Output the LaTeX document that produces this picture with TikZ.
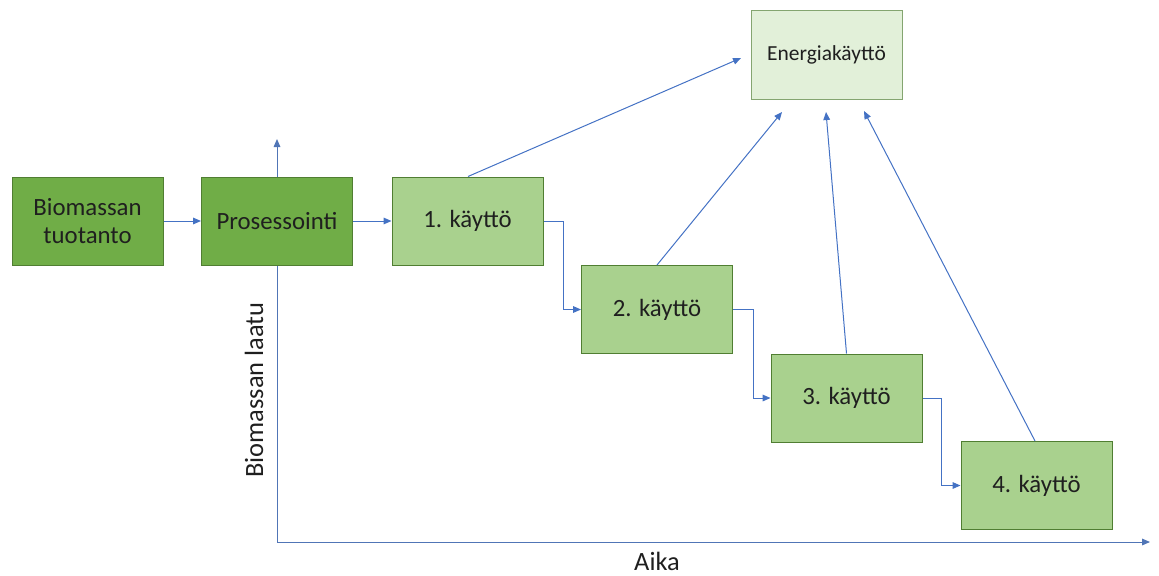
\documentclass[tikz,border=0pt]{standalone}
\usepackage{fontspec}
\setmainfont{Carlito}
\usetikzlibrary{arrows.meta,calc}
\definecolor{dkgreen}{HTML}{70AD47}
\definecolor{ltgreen}{HTML}{A9D18E}
\definecolor{pale}{HTML}{E2F0D9}
\definecolor{edgegreen}{HTML}{507E32}
\definecolor{arr}{HTML}{4472C4}
\begin{document}
\begin{tikzpicture}[x=0.75pt,y=-0.75pt,
  box/.style={draw=edgegreen, line width=0.75pt, minimum width=113.25pt, minimum height=66pt,
    inner sep=0pt, align=center, font=\fontsize{18.6}{21}\selectfont, text=black!88},
  darkbox/.style={box, fill=dkgreen},
  lightbox/.style={box, fill=ltgreen},
  palebox/.style={box, fill=pale, draw=edgegreen!70, minimum height=66.75pt, font=\fontsize{16.1}{19}\selectfont},
  conn/.style={draw=arr, line width=0.75pt, -{Triangle[length=6pt,width=5pt]}},
  axis/.style={line width=0.75pt, -{Triangle[length=6pt,width=5pt]}, color=arr!80!gray},
  axlabel/.style={font=\fontsize{19.8}{24}\selectfont, text=black!88, inner sep=0pt}]
\useasboundingbox (0,0) rectangle (1159,575);

% axes
\coordinate (O) at (277,542);
\coordinate (ytop) at (277,139);
\coordinate (xend) at (1150,542);
\draw[axis] (O) -- (ytop);
\draw[axis] (O) -- (xend);

% boxes
\node[darkbox] (bio) at (87.5,221) {Biomassan\\tuotanto};
\node[darkbox] (pro) at (277,221) {Prosessointi};
\node[lightbox] (k1) at (467.5,221) {1. käyttö};
\node[lightbox] (k2) at (657,309.5) {2. käyttö};
\node[lightbox] (k3) at (846.5,398) {3. käyttö};
\node[lightbox] (k4) at (1036.5,485.5) {4. käyttö};
\node[palebox] (en) at (826.5,54.5) {Energiakäyttö};

% flow connectors
\draw[conn] (bio) -- (pro);
\draw[conn] (pro) -- (k1);
\draw[conn] (k1.east) -- ++(20,0) |- (k2.west);
\draw[conn] (k2.east) -- ++(20,0) |- (k3.west);
\draw[conn] (k3.east) -- ++(19,0) |- (k4.west);

% to energy use
\coordinate (t1) at (741,58);
\coordinate (t2) at (782,112);
\coordinate (t3) at (826,112);
\coordinate (t4) at (864,111);
\draw[conn] ($(k1.north)+(0.5,0)$) -- (t1);
\draw[conn] (k2.north) -- (t2);
\draw[conn] (k3.north) -- (t3);
\draw[conn] ($(k4.north)+(-1.5,0)$) -- (t4);

% axis labels
\node[axlabel, rotate=90, anchor=base] (ylab) at (263,390) {Biomassan laatu};
\node[axlabel, anchor=base] (xlab) at (657,570) {Aika};
\end{tikzpicture}
\end{document}
